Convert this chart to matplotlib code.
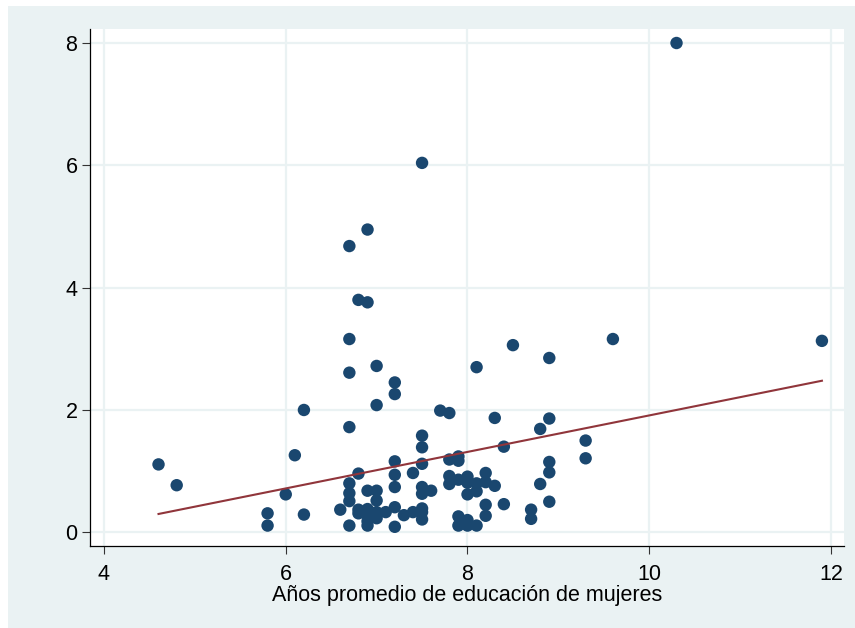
import matplotlib.pyplot as plt
from matplotlib.patches import Rectangle
import numpy as np

# points, grouped by x value
educ = (
    [4.6, 4.8, 5.8, 5.8, 6.0, 6.1, 6.2, 6.2, 6.6]
    + [6.7] * 8 + [6.8] * 4 + [6.9] * 7 + [7.0] * 6 + [7.1]
    + [7.2] * 7 + [7.3] + [7.4] * 2 + [7.5] * 9 + [7.6] + [7.7]
    + [7.8] * 4 + [7.9] * 5 + [8.0] * 5 + [8.1] * 4 + [8.2] * 4
    + [8.3] * 2 + [8.4] * 2 + [8.5] + [8.7] * 2 + [8.8] * 2
    + [8.9] * 5 + [9.3] * 2 + [9.6, 10.3, 11.9]
)
valor = [
    1.11, 0.77, 0.31, 0.11, 0.62, 1.26, 2.00, 0.29, 0.37,
    4.68, 3.16, 2.61, 1.72, 0.80, 0.64, 0.51, 0.11,
    3.80, 0.96, 0.37, 0.31,
    4.95, 3.76, 0.68, 0.38, 0.28, 0.18, 0.11,
    2.72, 2.08, 0.68, 0.52, 0.33, 0.23,
    0.33,
    2.45, 2.26, 1.16, 0.94, 0.74, 0.41, 0.09,
    0.28,
    0.97, 0.33,
    6.04, 1.58, 1.39, 1.12, 0.74, 0.63, 0.39, 0.33, 0.21,
    0.68,
    1.99,
    1.95, 1.19, 0.92, 0.79,
    1.24, 1.17, 0.86, 0.26, 0.11,
    0.91, 0.81, 0.62, 0.20, 0.11,
    2.70, 0.80, 0.67, 0.11,
    0.97, 0.82, 0.45, 0.27,
    1.87, 0.76,
    1.40, 0.46,
    3.06,
    0.37, 0.22,
    1.69, 0.79,
    2.85, 1.86, 1.15, 0.98, 0.50,
    1.50, 1.21,
    3.16, 8.00, 3.13,
]

# linear fit as drawn in the reference
fit_intercept = -1.073
fit_slope = 0.2984

xticks = [4, 6, 8, 10, 12]
yticks = [0, 2, 4, 6, 8]
xlabel = "Años promedio de educación de mujeres"

NAVY = "#1A476F"
MAROON = "#90353B"
BG = "#EAF2F3"

plt.rcParams["font.family"] = ["Liberation Sans", "DejaVu Sans"]

W, H = 855, 628
fig = plt.figure(figsize=(W / 100, H / 100), dpi=100)
fig.patches.append(
    Rectangle((8 / W, 0), 1 - 8 / W, 1 - 6 / H, transform=fig.transFigure,
              facecolor=BG, edgecolor="none", zorder=-10)
)

ax = fig.add_axes([90 / W, (H - 546) / H, (844 - 90) / W, (546 - 29) / H])
ax.set_facecolor("white")

ax.scatter(educ, valor, s=80, color=NAVY, edgecolors="none", zorder=3)

xs = np.array([min(educ), max(educ)])
ax.plot(xs, fit_intercept + fit_slope * xs, color=MAROON, lw=1.5, zorder=4)

ax.set_xlim(3.846, 12.143)
ax.set_ylim(-0.224, 8.229)
ax.set_xticks(xticks)
ax.set_yticks(yticks)
ax.grid(True, color=BG, lw=1.6, zorder=0)
ax.set_axisbelow(True)

for side in ["top", "right"]:
    ax.spines[side].set_visible(False)
for side in ["left", "bottom"]:
    ax.spines[side].set_color("black")
    ax.spines[side].set_linewidth(0.9)

ax.tick_params(axis="both", direction="out", length=6, width=0.8,
               color="#333333", labelsize=15.5)
ax.tick_params(axis="x", pad=7)
ax.tick_params(axis="y", pad=3)
ax.set_xlabel(xlabel, fontsize=15.5, labelpad=0)

fig.savefig("out.png", dpi=100)
